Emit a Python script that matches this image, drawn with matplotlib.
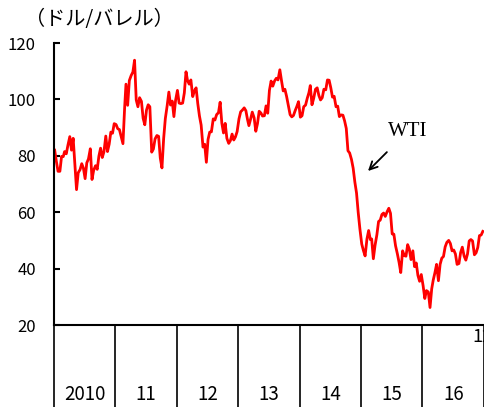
import matplotlib
matplotlib.use("Agg")
import matplotlib.pyplot as plt
import matplotlib.dates as mdates
import matplotlib.transforms as mtransforms
import pandas as pd

plt.rcParams['font.family'] = ['Noto Sans CJK JP', 'DejaVu Sans']

# WTI crude price (USD/barrel), three readings per month (approx. 5th, 15th, 25th)
wti_2010 = [82.0, 78.0, 74.5, 74.5, 79.8, 79.7, 81.5, 80.7, 83.8, 86.8, 82.0, 86.2,
            76.8, 68.0, 74.0, 75.1, 77.2, 75.6, 71.9, 77.5, 78.9, 82.5, 71.6, 74.9,
            76.5, 75.2, 79.9, 82.7, 79.4, 81.4, 87.0, 81.5, 84.1, 88.4, 88.0, 91.4]
wti_2011 = [91.1, 89.6, 89.3, 86.7, 84.3, 97.0, 105.4, 97.9, 106.7, 108.5, 109.7, 113.9,
            99.8, 97.4, 100.6, 99.3, 93.3, 91.0, 96.2, 98.1, 97.4, 81.3, 82.4, 86.0,
            87.2, 86.9, 79.2, 75.7, 86.1, 93.2, 97.8, 102.6, 98.0, 99.4, 93.9, 99.7]
wti_2012 = [103.2, 98.7, 98.5, 98.7, 102.3, 109.8, 106.7, 105.4, 106.9, 101.0, 103.0, 104.1,
            98.5, 94.1, 90.9, 83.1, 84.1, 77.7, 85.8, 88.4, 88.5, 93.1, 92.7, 94.6,
            95.3, 99.0, 91.6, 88.1, 91.5, 86.2, 84.4, 85.4, 87.7, 85.6, 86.7, 88.6]
wti_2013 = [93.1, 95.6, 96.2, 97.0, 96.0, 92.8, 90.7, 93.0, 95.5, 93.5, 88.7, 91.4,
            95.8, 95.2, 94.1, 94.2, 97.7, 95.1, 103.2, 106.5, 104.7, 106.6, 107.5, 106.9,
            110.5, 106.6, 103.0, 103.6, 101.1, 98.0, 94.6, 93.8, 94.3, 96.0, 97.5, 99.2]
wti_2014 = [93.7, 94.2, 97.4, 98.0, 100.4, 102.4, 104.9, 98.1, 100.3, 103.6, 104.1, 101.4,
            99.8, 100.6, 103.6, 103.4, 106.9, 106.8, 104.1, 100.8, 101.1, 97.4, 97.6, 93.9,
            94.5, 94.4, 92.4, 89.7, 81.8, 81.0, 78.7, 75.6, 70.7, 66.8, 59.9, 54.1]
wti_2015 = [48.7, 46.4, 44.5, 50.5, 53.5, 50.3, 50.5, 43.5, 48.2, 52.0, 56.7, 57.2,
            59.2, 59.7, 58.5, 60.2, 61.4, 59.6, 52.3, 52.2, 48.1, 45.2, 42.2, 38.6,
            46.3, 44.6, 44.4, 48.5, 46.9, 43.2, 46.3, 40.7, 42.0, 37.6, 35.5, 37.9]
wti_2016 = [33.9, 29.4, 32.2, 31.7, 26.2, 32.8, 35.9, 38.5, 41.5, 35.7, 41.5, 43.7,
            44.3, 47.7, 49.3, 50.0, 48.9, 46.3, 46.6, 45.2, 41.5, 41.8, 45.7, 47.6,
            44.4, 43.0, 45.2, 49.8, 50.3, 49.8, 44.9, 45.6, 47.5, 51.7, 51.9, 53.2]

years = [2010, 2011, 2012, 2013, 2014, 2015, 2016]
year_labels = ["2010", "11", "12", "13", "14", "15", "16"]
sample_days = [5, 15, 25]
y_ticks = [20, 40, 60, 80, 100, 120]

values = wti_2010 + wti_2011 + wti_2012 + wti_2013 + wti_2014 + wti_2015 + wti_2016
dates = [pd.Timestamp(y, m, d) for y in years for m in range(1, 13) for d in sample_days]

fig = plt.figure(figsize=(4.85, 4.07), dpi=100)
ax = fig.add_axes([54 / 485, 1 - 325 / 407, (484 - 54) / 485, (325 - 43) / 407])

ax.plot(dates, values, color='#ff0000', lw=2.0, solid_joinstyle='round')

ax.set_xlim(pd.Timestamp(2010, 1, 1), pd.Timestamp(2017, 1, 1))
ax.set_ylim(20, 120)
ax.set_yticks(y_ticks)
ax.tick_params(axis='y', direction='in', length=4, width=1.5, pad=13, labelsize=12)
ax.set_xticks([])
for s in ['top', 'right']:
    ax.spines[s].set_visible(False)
for s in ['left', 'bottom']:
    ax.spines[s].set_linewidth(1.5)

trans = mtransforms.blended_transform_factory(ax.transData, ax.transAxes)
bottom_frac = -(407 - 325) / 282 - 0.02
for y in years + [2017]:
    x = mdates.date2num(pd.Timestamp(y, 1, 1))
    ax.plot([x, x], [0, bottom_frac], transform=trans, color='black', lw=1.2,
            clip_on=False)
for y, lab in zip(years, year_labels):
    xc = (mdates.date2num(pd.Timestamp(y, 1, 1)) + mdates.date2num(pd.Timestamp(y + 1, 1, 1))) / 2
    ax.text(xc, -(395 - 325) / 282, lab, transform=trans, ha='center', va='center',
            fontsize=13.5)

fig.text(472 / 485, 1 - 337 / 407, "12", ha='left', va='center', fontsize=13)
fig.text(25 / 485, 1 - 20 / 407, "（ドル/バレル）", ha='left', va='center', fontsize=14.5)

ax.annotate("WTI", xy=(368, 407 - 171), xycoords='figure pixels',
            xytext=(408, 407 - 131), textcoords='figure pixels',
            fontsize=15, family='Liberation Serif', ha='center', va='center',
            arrowprops=dict(arrowstyle='->', color='black', lw=1.3,
                            shrinkA=9, shrinkB=0, mutation_scale=14))

fig.savefig("out.png", dpi=100)
